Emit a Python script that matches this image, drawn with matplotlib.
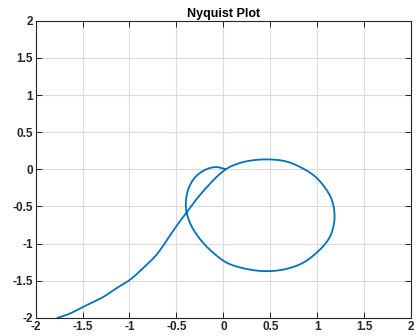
import numpy as np
import matplotlib
matplotlib.use("Agg")
import matplotlib.pyplot as plt

# traced nyquist curve (real, imag), in drawing order
re_vals = [-1.766, -1.641, -1.482, -1.287, -1.145, -1.003, -0.843, -0.719, -0.61,
           -0.52, -0.398, -0.272, -0.14, -0.05, 0.025,
           0.098, 0.24, 0.452, 0.663, 0.835, 0.97, 1.08, 1.152, 1.182, 1.172,
           1.122, 0.995, 0.83, 0.628, 0.416, 0.204, 0.04, -0.095, -0.236,
           -0.342, -0.395, -0.395, -0.36, -0.289, -0.183, -0.077, 0.015]
im_vals = [-2.0, -1.946, -1.845, -1.725, -1.606, -1.495, -1.316, -1.16, -0.97,
           -0.80, -0.59, -0.379, -0.19, -0.075, 0.0,
           0.05, 0.107, 0.134, 0.108, 0.02, -0.09, -0.245, -0.405, -0.59, -0.765,
           -0.935, -1.12, -1.27, -1.352, -1.37, -1.33, -1.26, -1.138, -0.96,
           -0.759, -0.558, -0.379, -0.224, -0.09, 0.0, 0.031, 0.005]

xticks = [-2, -1.5, -1, -0.5, 0, 0.5, 1, 1.5, 2]
yticks = [-2, -1.5, -1, -0.5, 0, 0.5, 1, 1.5, 2]

plt.rcParams['font.family'] = ['Liberation Sans', 'DejaVu Sans']
fig = plt.figure(figsize=(4.18, 3.36), dpi=100)
ax = fig.add_axes([0.085, 0.054, 0.899, 0.884])


def catmull(p, per_seg=30, alpha=0.5):
    # centripetal Catmull-Rom through the traced points (no overshoot)
    p = np.vstack([2 * p[0] - p[1], p, 2 * p[-1] - p[-2]])
    out = []
    for i in range(1, len(p) - 2):
        p0, p1, p2, p3 = p[i - 1], p[i], p[i + 1], p[i + 2]
        t0 = 0.0
        t1 = t0 + np.linalg.norm(p1 - p0) ** alpha
        t2 = t1 + np.linalg.norm(p2 - p1) ** alpha
        t3 = t2 + np.linalg.norm(p3 - p2) ** alpha
        t = np.linspace(t1, t2, per_seg, endpoint=False)[:, None]
        a1 = (t1 - t) / (t1 - t0) * p0 + (t - t0) / (t1 - t0) * p1
        a2 = (t2 - t) / (t2 - t1) * p1 + (t - t1) / (t2 - t1) * p2
        a3 = (t3 - t) / (t3 - t2) * p2 + (t - t2) / (t3 - t2) * p3
        b1 = (t2 - t) / (t2 - t0) * a1 + (t - t0) / (t2 - t0) * a2
        b2 = (t3 - t) / (t3 - t1) * a2 + (t - t1) / (t3 - t1) * a3
        out.append((t2 - t) / (t2 - t1) * b1 + (t - t1) / (t2 - t1) * b2)
    out.append(p[-2][None, :])
    return np.vstack(out)


curve = catmull(np.array([re_vals, im_vals]).T)

ax.plot(curve[:, 0], curve[:, 1], color='#0072BD', lw=1.3)

ax.set_xlim(-2, 2)
ax.set_ylim(-2, 2)
ax.set_xticks(xticks)
ax.set_yticks(yticks)
ax.set_xticklabels([f"{v:g}" for v in xticks])
ax.set_yticklabels([f"{v:g}" for v in yticks])
ax.grid(True, color='#dcdcdc', lw=0.8)
ax.set_axisbelow(True)
ax.tick_params(direction='in', length=4, width=0.7, top=True, right=True,
               colors='#262626', labelsize=8.5, pad=2)
for lab in ax.get_xticklabels() + ax.get_yticklabels():
    lab.set_fontweight('bold')
for s in ax.spines.values():
    s.set_color('#262626')
    s.set_linewidth(0.8)
ax.set_title("Nyquist Plot", fontsize=9, fontweight='bold', pad=3)

fig.savefig("out.png", dpi=100)
